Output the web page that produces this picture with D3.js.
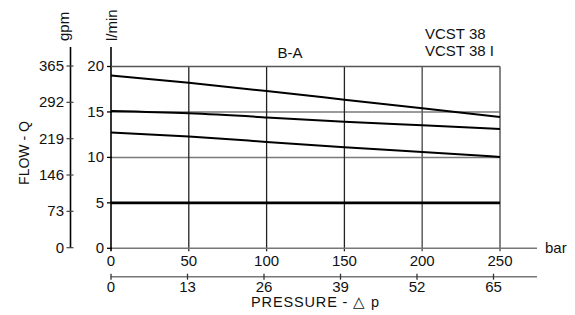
<!DOCTYPE html>
<html><head><meta charset="utf-8">
<script src="https://cdn.jsdelivr.net/npm/d3@7"></script>
<style>body{margin:0;background:#fff}svg{display:block}text{font-family:"Liberation Sans",Arial,sans-serif;fill:#111}</style>
</head><body><svg id="c" width="575" height="315"></svg>
<script>
const pressureBar = [0, 50, 100, 150, 200, 250];
const barTicks = [0, 50, 100, 150, 200, 250];
const psiTicks = [0, 13, 26, 39, 52, 65];
const lminTicks = [0, 5, 10, 15, 20];
const gpmTicks = [0, 73, 146, 219, 292, 365];
const curve1 = [19.0, 18.2, 17.3, 16.35, 15.4, 14.45];
const curve2 = [15.1, 14.85, 14.4, 13.93, 13.53, 13.12];
const curve3 = [12.75, 12.3, 11.7, 11.12, 10.6, 10.05];
const curve4 = [5.0, 5.0, 5.0, 5.0, 5.0, 5.0];
const seriesList = [curve1, curve2, curve3, curve4];

const svg = d3.select("#c");
const x = d3.scaleLinear().domain([0, 250]).range([111, 500]);
const xPsi = d3.scaleLinear().domain([0, 65]).range([111, 493.5]);
const y = d3.scaleLinear().domain([0, 20]).range([248.3, 66.5]);
const yG = d3.scaleLinear().domain([0, 365]).range([247.7, 66]);
const FS = 15;

// horizontal grid
svg.append("g").selectAll("line").data(lminTicks.filter(d => d > 0 && d < 20)).join("line")
  .attr("x1", x(0)).attr("x2", x(250)).attr("y1", d => y(d)).attr("y2", d => y(d))
  .attr("stroke", "#7a7a7a").attr("stroke-width", 1.5);
// vertical grid
svg.append("g").selectAll("line").data(barTicks.filter(d => d > 0)).join("line")
  .attr("x1", d => x(d)).attr("x2", d => x(d)).attr("y1", y(20)).attr("y2", y(0) + 3)
  .attr("stroke", d => d >= 200 ? "#666" : "#222").attr("stroke-width", d => d >= 200 ? 1.6 : 1.3);

// bar axis
svg.append("line").attr("x1", x(0)).attr("x2", 537).attr("y1", y(0)).attr("y2", y(0))
  .attr("stroke", "#777").attr("stroke-width", 1.5);
svg.append("g").selectAll("text").data(barTicks).join("text")
  .attr("x", d => x(d)).attr("y", 265.5).attr("text-anchor", "middle").attr("font-size", FS).text(d => d);
svg.append("text").attr("x", 545).attr("y", 253).attr("font-size", FS).text("bar");

// psi axis
const psiY = 276.7;
svg.append("line").attr("x1", x(0)).attr("x2", 537).attr("y1", psiY).attr("y2", psiY)
  .attr("stroke", "#777").attr("stroke-width", 1.5);
svg.append("g").selectAll("line").data(psiTicks).join("line")
  .attr("x1", d => xPsi(d)).attr("x2", d => xPsi(d)).attr("y1", psiY - 3).attr("y2", psiY + 3)
  .attr("stroke", "#333").attr("stroke-width", 1.3);
svg.append("g").selectAll("text").data(psiTicks).join("text")
  .attr("x", d => xPsi(d)).attr("y", 291.5).attr("text-anchor", "middle").attr("font-size", FS).text(d => d);
svg.append("text").attr("x", 315).attr("y", 306.5).attr("font-size", 14.5).attr("text-anchor", "middle")
  .attr("textLength", 128).attr("lengthAdjust", "spacing").text("PRESSURE - \u25B3 p");

// l/min axis
svg.append("line").attr("x1", x(0)).attr("x2", x(0)).attr("y1", 47).attr("y2", y(0) + 3)
  .attr("stroke", "#000").attr("stroke-width", 1.6);
svg.append("g").selectAll("line").data(lminTicks).join("line")
  .attr("x1", x(0) - 4).attr("x2", x(0) + 1).attr("y1", d => y(d)).attr("y2", d => y(d))
  .attr("stroke", "#000").attr("stroke-width", 1.3);
svg.append("g").selectAll("text").data(lminTicks).join("text")
  .attr("x", 104).attr("y", d => y(d)).attr("dy", "0.33em").attr("text-anchor", "end").attr("font-size", FS).text(d => d);
svg.append("text").attr("transform", "translate(117,41) rotate(-90)").attr("font-size", FS).text("l/min");

// gpm axis
svg.append("line").attr("x1", 70.5).attr("x2", 70.5).attr("y1", 47).attr("y2", yG(0))
  .attr("stroke", "#000").attr("stroke-width", 1.6);
svg.append("g").selectAll("line").data(gpmTicks).join("line")
  .attr("x1", 66.5).attr("x2", 73.5).attr("y1", d => yG(d)).attr("y2", d => yG(d))
  .attr("stroke", "#444").attr("stroke-width", 1.2);
svg.append("g").selectAll("text").data(gpmTicks).join("text")
  .attr("x", 64).attr("y", d => yG(d)).attr("dy", "0.33em").attr("text-anchor", "end").attr("font-size", FS).text(d => d);
svg.append("text").attr("transform", "translate(68.5,41) rotate(-90)").attr("font-size", FS).text("gpm");
svg.append("text").attr("transform", "translate(29,153) rotate(-90)").attr("text-anchor", "middle").attr("font-size", 14).text("FLOW - Q");

// top border
svg.append("line").attr("x1", x(0)).attr("x2", x(250)).attr("y1", y(20)).attr("y2", y(20))
  .attr("stroke", "#555").attr("stroke-width", 1.5);

// data
const line = d3.line().x((d, i) => x(pressureBar[i])).y(d => y(d)).curve(d3.curveNatural);
svg.append("g").selectAll("path").data(seriesList).join("path")
  .attr("d", line).attr("fill", "none").attr("stroke", "#000")
  .attr("stroke-width", (d, i) => i === 3 ? 2.6 : 2);

// titles
svg.append("text").attr("x", 290).attr("y", 58).attr("text-anchor", "middle").attr("font-size", FS).text("B-A");
svg.append("text").attr("x", 425).attr("y", 39).attr("font-size", FS).text("VCST 38");
svg.append("text").attr("x", 425).attr("y", 56).attr("font-size", FS).text("VCST 38 I");
</script></body></html>
